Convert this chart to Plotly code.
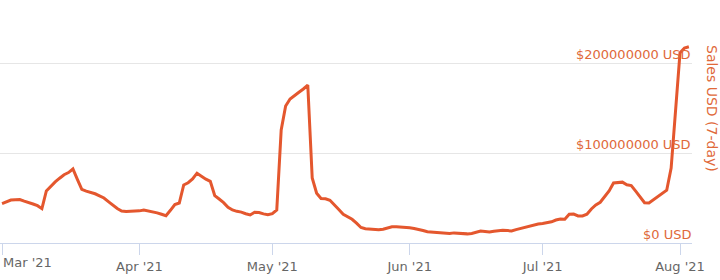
import pandas as pd
import plotly.graph_objects as go

start_date = "2021-03-01"
# 7-day sales in millions of USD, one value per day from 2021-03-01
sales_musd = [
    44.1, 46.3, 48.0, 48.4, 48.6, 46.7, 44.7, 43.6, 41.7, 38.4,
    58.2, 63.7, 68.2, 72.4, 76.3, 78.7, 82.7, 71.1, 60.0, 58.0,
    56.8, 55.0, 52.7, 50.3, 46.3, 42.5, 38.5, 35.8, 35.1, 35.6,
    35.5, 35.9, 36.9, 36.1, 35.1, 33.7, 32.1, 30.5, 36.5, 43.0,
    44.7, 64.8, 67.3, 71.5, 78.0, 74.3, 71.3, 68.8, 53.0, 49.1,
    45.1, 40.0, 36.9, 35.4, 34.5, 32.7, 31.3, 34.4, 34.1, 32.5,
    31.5, 32.8, 36.9, 126.3, 153.1, 160.9, 165.0, 168.4, 172.1, 176.5,
    72.6, 55.6, 49.8, 49.4, 47.7, 43.1, 37.4, 32.1, 28.9, 26.5,
    22.2, 17.3, 15.9, 15.4, 15.4, 14.7, 15.3, 16.8, 18.2, 18.2,
    18.1, 17.7, 17.1, 16.2, 15.3, 13.9, 12.5, 12.0, 11.4, 10.8,
    10.3, 10.5, 11.3, 10.8, 10.2, 10.2, 10.7, 12.0, 13.4, 12.8,
    12.3, 13.2, 14.1, 14.3, 13.9, 13.4, 15.0, 16.4, 17.2, 18.8,
    20.6, 21.3, 21.8, 22.5, 23.7, 25.7, 26.7, 26.5, 32.1, 32.3,
    30.3, 30.3, 32.1, 38.0, 42.5, 45.5, 51.6, 58.2, 67.0, 67.8,
    68.0, 65.0, 64.2, 57.9, 51.6, 45.0, 44.6, 48.0, 51.3, 54.7,
    59.0, 83.8, 148.6, 212.3, 217.9, 219.3,
]
tick_dates = ["2021-03-01", "2021-04-01", "2021-05-01", "2021-06-01", "2021-07-01", "2021-08-01"]
tick_labels = ["Mar '21", "Apr '21", "May '21", "Jun '21", "Jul '21", "Aug '21"]
y_ticks = [0, 100000000, 200000000]
y_tick_labels = ["$0 USD", "$100000000 USD", "$200000000 USD"]
y_title = "Sales USD (7-day)"

dates = pd.date_range(start_date, periods=len(sales_musd), freq="D")
values = [v * 1e6 for v in sales_musd]

LINE = "#e4572e"
LABEL = "#e0693a"
FONT = "DejaVu Sans"

fig = go.Figure()
fig.add_trace(go.Scatter(x=dates, y=values, mode="lines",
                         line=dict(color=LINE, width=3), hoverinfo="skip"))

annotations = [
    dict(text=tick_labels[0], x=tick_dates[0], xref="x", y=0, yref="paper",
         xanchor="left", yanchor="middle", yshift=-19, xshift=-1, showarrow=False,
         font=dict(family=FONT, size=13, color="#666666")),
    dict(text=y_title, x=1, xref="paper", y=(243 - 108) / 243, yref="paper",
         xshift=20, textangle=90, showarrow=False, xanchor="center", yanchor="middle",
         font=dict(family=FONT, size=14, color=LABEL)),
]
for val, lab in zip(y_ticks, y_tick_labels):
    annotations.append(dict(text=lab, x=1, xref="paper", y=val, yref="y",
                            xanchor="right", yanchor="middle", xshift=1, yshift=9,
                            showarrow=False,
                            font=dict(family=FONT, size=13, color=LABEL)))

fig.update_layout(
    width=720, height=280,
    margin=dict(l=0, r=28, t=0, b=37),
    paper_bgcolor="white", plot_bgcolor="white",
    showlegend=False,
    font=dict(family=FONT, size=13, color="#666666"),
    xaxis=dict(
        type="date",
        range=["2021-02-28 13:00", "2021-08-03 17:00"],
        showgrid=False, zeroline=False,
        showline=True, linecolor="#ccd6eb", linewidth=1,
        ticks="outside", ticklen=11, tickcolor="#ccd6eb", tickwidth=1,
        tickvals=tick_dates,
        ticktext=[""] + tick_labels[1:],
        ticklabeloverflow="allow",
        tickfont=dict(family=FONT, size=13, color="#666666"),
    ),
    yaxis=dict(
        side="right",
        range=[0, 271.5e6],
        tickvals=y_ticks,
        showticklabels=False,
        showgrid=True, gridcolor="#e6e6e6", gridwidth=1,
        zeroline=False, showline=False, ticks="",
    ),
    annotations=annotations,
)

fig.write_html("out.html")
